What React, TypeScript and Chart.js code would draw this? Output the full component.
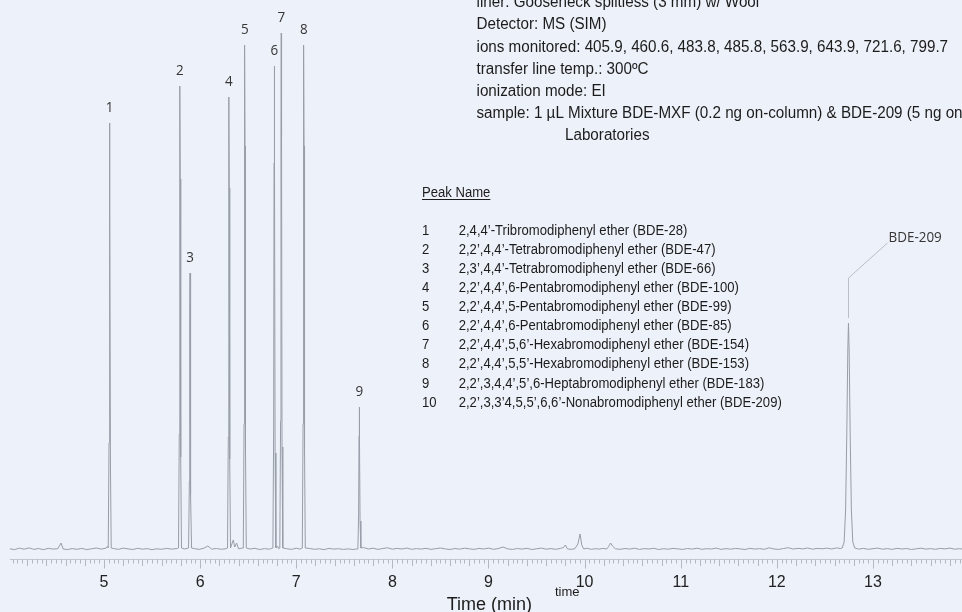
import { useEffect, useRef } from "react";
import { Chart, registerables } from "chart.js";

Chart.register(...registerables);

// ---------- data ----------
const xTickValues = [5, 6, 7, 8, 9, 10, 11, 12, 13];

const peakNumbers = ["1", "2", "3", "4", "5", "6", "7", "8", "9"];
const peakTimes = [5.059, 5.79, 5.895, 6.3, 6.464, 6.772, 6.844, 7.078, 7.656];
const peakHeights = [427, 464, 277, 453, 505, 484, 517, 505, 143];

const bde209Label = "BDE-209";
const bde209Time = 12.745;
const bde209Height = 227;

const legendNumbers = ["1", "2", "3", "4", "5", "6", "7", "8", "9", "10"];
const compoundNames = [
  "2,4,4’-Tribromodiphenyl ether (BDE-28)",
  "2,2’,4,4’-Tetrabromodiphenyl ether (BDE-47)",
  "2,3’,4,4’-Tetrabromodiphenyl ether (BDE-66)",
  "2,2’,4,4’,6-Pentabromodiphenyl ether (BDE-100)",
  "2,2’,4,4’,5-Pentabromodiphenyl ether (BDE-99)",
  "2,2’,4,4’,6-Pentabromodiphenyl ether (BDE-85)",
  "2,2’,4,4’,5,6’-Hexabromodiphenyl ether (BDE-154)",
  "2,2’,4,4’,5,5’-Hexabromodiphenyl ether (BDE-153)",
  "2,2’,3,4,4’,5’,6-Heptabromodiphenyl ether (BDE-183)",
  "2,2’,3,3’4,5,5’,6,6’-Nonabromodiphenyl ether (BDE-209)",
];

const methodLines = [
  "liner: Gooseneck splitless (3 mm) w/ Wool",
  "Detector: MS (SIM)",
  "ions monitored: 405.9, 460.6, 483.8, 485.8, 563.9, 643.9, 721.6, 799.7",
  "transfer line temp.: 300ºC",
  "ionization mode: EI",
  "sample: 1 µL Mixture BDE-MXF (0.2 ng on-column) & BDE-209 (5 ng on-column), Cambridge Isotope",
];
const methodContinuation = "Laboratories";

// trace segments: [time (min), signal]
const noiseA: [number, number][] = [
  [4.02, 1.2], [4.07, 0.4], [4.12, 1.9], [4.17, 0.8], [4.22, 2.1], [4.27, 0.6], [4.32, 1.5],
  [4.37, 0.3], [4.42, 1.7], [4.47, 0.9], [4.52, 1.3], [4.553, 7], [4.575, 1.0], [4.62, 0.5],
  [4.67, 1.4], [4.72, 0.7], [4.77, 1.6], [4.82, 0.4], [4.87, 1.2], [4.92, 2.0], [4.97, 0.9],
  [5.02, 1.8], [5.035, 3.5],
];
const peak1: [number, number][] = [
  [5.044, 2], [5.052, 107], [5.056, 342], [5.059, 427], [5.062, 342], [5.067, 85], [5.075, 2],
];
const noiseB: [number, number][] = [
  [5.1, 1.5], [5.15, 0.6], [5.2, 1.9], [5.25, 1.1], [5.3, 0.5], [5.35, 1.7], [5.4, 0.8],
  [5.45, 1.4], [5.5, 0.3], [5.55, 1.2], [5.6, 0.7], [5.65, 1.6], [5.7, 0.9], [5.765, 1.5],
];
const peak2: [number, number][] = [
  [5.775, 2], [5.783, 116], [5.787, 371], [5.79, 464], [5.793, 371], [5.798, 93], [5.806, 2],
];
const noiseC: [number, number][] = [[5.84, 1.0]];
const peak3: [number, number][] = [
  [5.88, 2], [5.888, 69], [5.892, 222], [5.895, 277], [5.898, 222], [5.903, 55], [5.911, 2],
];
const noiseD: [number, number][] = [
  [5.94, 1.4], [5.99, 0.6], [6.04, 1.8], [6.08, 4], [6.12, 0.9], [6.17, 1.5], [6.22, 0.7], [6.27, 1.3],
];
const peak4: [number, number][] = [
  [6.285, 2], [6.293, 113], [6.297, 362], [6.3, 453], [6.303, 362], [6.308, 91], [6.316, 2],
];
const noiseE: [number, number][] = [
  [6.33, 6], [6.345, 10], [6.36, 3], [6.38, 7], [6.4, 1.2], [6.43, 1.8],
];
const peak5: [number, number][] = [
  [6.449, 2], [6.457, 126], [6.461, 404], [6.464, 505], [6.467, 404], [6.472, 101], [6.48, 2],
];
const noiseF: [number, number][] = [
  [6.52, 1.0], [6.57, 1.7], [6.62, 0.5], [6.67, 1.4], [6.72, 0.8], [6.74, 1.5],
];
const peak6: [number, number][] = [
  [6.757, 2], [6.765, 121], [6.769, 387], [6.772, 484], [6.775, 387], [6.78, 97], [6.788, 2],
];
const noiseG: [number, number][] = [[6.805, 4], [6.818, 1.2]];
const peak7: [number, number][] = [
  [6.829, 2], [6.837, 129], [6.841, 414], [6.844, 517], [6.847, 414], [6.852, 103], [6.86, 2],
];
const noiseH: [number, number][] = [
  [6.9, 1.3], [6.95, 0.6], [7.0, 1.8], [7.04, 0.9],
];
const peak8: [number, number][] = [
  [7.063, 2], [7.071, 126], [7.075, 404], [7.078, 505], [7.081, 404], [7.086, 101], [7.094, 2],
];
const noiseI: [number, number][] = [
  [7.14, 1.5], [7.19, 0.7], [7.24, 1.2], [7.29, 0.4], [7.34, 1.6], [7.39, 0.9], [7.44, 1.3],
  [7.49, 0.6], [7.54, 1.1], [7.59, 0.5], [7.62, 1.0],
];
const peak9: [number, number][] = [
  [7.641, 1], [7.649, 36], [7.653, 114], [7.656, 143], [7.659, 114], [7.664, 29], [7.672, 2],
];
const noiseJ: [number, number][] = [
  [7.7, 2.5], [7.75, 1.0], [7.8, 1.8], [7.85, 0.6], [7.9, 1.5], [7.95, 2.2], [8.0, 0.8],
  [8.05, 1.6], [8.1, 1.0], [8.15, 1.9], [8.2, 0.7], [8.25, 1.4], [8.3, 0.9], [8.35, 1.7],
  [8.4, 0.6], [8.45, 1.3], [8.5, 2.0], [8.55, 1.1], [8.6, 0.5], [8.65, 1.5], [8.7, 0.8],
  [8.75, 1.8], [8.8, 1.2], [8.85, 0.6], [8.9, 1.6], [8.95, 1.0], [9.0, 1.9], [9.05, 0.7],
  [9.1, 1.4], [9.15, 3.0], [9.2, 1.1], [9.25, 0.6], [9.3, 1.5], [9.35, 0.9], [9.4, 1.7],
  [9.45, 0.5], [9.5, 1.2], [9.55, 1.9], [9.6, 0.8], [9.65, 1.4], [9.7, 0.7], [9.75, 1.6],
  [9.78, 2.5], [9.8, 5], [9.82, 1.2], [9.86, 0.6], [9.9, 1.4], [9.93, 6], [9.953, 16],
  [9.97, 5], [9.99, 1.1], [10.03, 1.7], [10.07, 0.6], [10.11, 1.3], [10.15, 0.9], [10.19, 1.6],
  [10.23, 1.0], [10.25, 3.5], [10.27, 7], [10.29, 4], [10.32, 1.2], [10.37, 0.7], [10.42, 1.5],
  [10.47, 0.9], [10.52, 1.8], [10.57, 0.6], [10.62, 1.4], [10.67, 1.0], [10.72, 1.7], [10.77, 0.5],
  [10.82, 1.3], [10.87, 0.8], [10.92, 1.6], [10.97, 1.1], [11.02, 0.6], [11.07, 1.5], [11.12, 0.9],
  [11.17, 1.8], [11.22, 0.7], [11.27, 1.3], [11.32, 1.0], [11.37, 1.9], [11.42, 0.6], [11.47, 1.4],
  [11.52, 0.8], [11.57, 1.6], [11.62, 1.1], [11.67, 0.5], [11.72, 1.7], [11.77, 0.9], [11.82, 1.4],
  [11.87, 0.7], [11.92, 2.2], [11.97, 1.0], [12.02, 0.6], [12.07, 1.5], [12.12, 2.3], [12.17, 0.9],
  [12.22, 1.7], [12.27, 1.1], [12.32, 2.0], [12.37, 0.8], [12.42, 1.6], [12.47, 1.2], [12.52, 1.9],
  [12.57, 1.0], [12.62, 2.1], [12.66, 1.5],
];
const peak209: [number, number][] = [
  [12.68, 2], [12.7, 8], [12.715, 40], [12.728, 120], [12.738, 200], [12.745, 227],
  [12.752, 200], [12.762, 120], [12.775, 40], [12.79, 8], [12.81, 2],
];
const noiseK: [number, number][] = [
  [12.85, 0.9], [12.9, 1.6], [12.95, 0.7], [13.0, 1.3], [13.05, 1.9], [13.1, 0.8], [13.15, 1.4],
  [13.2, 0.6], [13.25, 1.7], [13.3, 1.0], [13.35, 1.5], [13.4, 0.5], [13.45, 1.2], [13.5, 1.8],
  [13.55, 0.9], [13.6, 1.4], [13.65, 0.7], [13.7, 1.6], [13.75, 1.1], [13.8, 1.9], [13.85, 0.8],
  [13.9, 1.3], [13.93, 1.0],
];

const traceSegments = [
  noiseA, peak1, noiseB, peak2, noiseC, peak3, noiseD, peak4, noiseE, peak5, noiseF, peak6,
  noiseG, peak7, noiseH, peak8, noiseI, peak9, noiseJ, peak209, noiseK,
];

// ---------- drawing helpers ----------
function drawText(
  ctx: CanvasRenderingContext2D,
  text: string,
  x: number,
  y: number,
  font: string,
  color: string,
  align: CanvasTextAlign = "left",
  sx = 1,
  baseline: CanvasTextBaseline = "alphabetic"
) {
  ctx.save();
  ctx.font = font;
  ctx.fillStyle = color;
  ctx.textAlign = align;
  ctx.textBaseline = baseline;
  ctx.translate(x, y);
  ctx.scale(sx, 1);
  ctx.fillText(text, 0, 0);
  ctx.restore();
}

const decorPlugin = {
  id: "decor",
  beforeDraw(chart: any) {
    const ctx = chart.ctx as CanvasRenderingContext2D;
    ctx.save();
    ctx.fillStyle = "#edf1f9";
    ctx.fillRect(0, 0, chart.width, chart.height);
    ctx.restore();
  },
  afterDatasetsDraw(chart: any) {
    const ctx = chart.ctx as CanvasRenderingContext2D;
    const xs = chart.scales.x;
    const ys = chart.scales.y;
    const axisY = Math.round(ys.bottom) + 0.5;

    // axis line and ticks
    ctx.save();
    ctx.strokeStyle = "#c3c8d0";
    ctx.lineWidth = 1;
    ctx.beginPath();
    ctx.moveTo(xs.getPixelForValue(4.02), axisY);
    ctx.lineTo(xs.right, axisY);
    ctx.stroke();
    ctx.strokeStyle = "#b3b8c1";
    ctx.beginPath();
    for (let i = 81; i <= 278; i++) {
      const t = i * 0.05;
      const px = Math.round(xs.getPixelForValue(t)) + 0.5;
      const len = i % 20 === 0 ? 9 : i % 4 === 0 ? 6.5 : 4;
      ctx.moveTo(px, axisY);
      ctx.lineTo(px, axisY + len);
    }
    ctx.stroke();
    ctx.restore();

    // peak numbers
    const labelFont = '14px "Open Sans", "DejaVu Sans", sans-serif';
    for (let i = 0; i < peakNumbers.length; i++) {
      const px = xs.getPixelForValue(peakTimes[i]);
      const py = ys.getPixelForValue(peakHeights[i]);
      drawText(ctx, peakNumbers[i], px, py - 14.5, labelFont, "#353535", "center", 0.96, "middle");
    }

    // BDE-209 leader + label
    const bx = xs.getPixelForValue(bde209Time);
    const by = ys.getPixelForValue(bde209Height);
    ctx.save();
    ctx.strokeStyle = "#b9bec7";
    ctx.lineWidth = 1;
    ctx.beginPath();
    ctx.moveTo(Math.round(bx) + 0.5, by - 5);
    ctx.lineTo(Math.round(bx) + 0.5, by - 45);
    ctx.lineTo(bx + 39, by - 80);
    ctx.stroke();
    ctx.restore();
    drawText(ctx, bde209Label, bx + 40, by - 85, labelFont, "#353535", "left", 0.96, "middle");
  },
  afterDraw(chart: any) {
    const ctx = chart.ctx as CanvasRenderingContext2D;
    const infoFont = '16px "Liberation Sans", Arial, sans-serif';
    for (let i = 0; i < methodLines.length; i++) {
      drawText(ctx, methodLines[i], 476.5, 7.1 + i * 22.2, infoFont, "#1c1c1c", "left", 0.95);
    }
    drawText(ctx, methodContinuation, 565, 7.1 + methodLines.length * 22.2, infoFont, "#1c1c1c", "left", 0.95);

    // legend table
    const legFont = '14px "Liberation Sans", Arial, sans-serif';
    drawText(ctx, "Peak Name", 422, 197.3, legFont, "#1c1c1c", "left", 0.935);
    ctx.save();
    ctx.font = legFont;
    const w = ctx.measureText("Peak Name").width * 0.935;
    ctx.strokeStyle = "#1c1c1c";
    ctx.lineWidth = 1;
    ctx.beginPath();
    ctx.moveTo(422, 199.5);
    ctx.lineTo(422 + w, 199.5);
    ctx.stroke();
    ctx.restore();
    for (let i = 0; i < compoundNames.length; i++) {
      const y = 235 + i * 19.07;
      drawText(ctx, legendNumbers[i], 422, y, legFont, "#1c1c1c", "left", 0.935);
      drawText(ctx, compoundNames[i], 458.7, y, legFont, "#1c1c1c", "left", 0.935);
    }

    // axis titles
    drawText(ctx, "time", 555, 596, '13px "Liberation Sans", Arial, sans-serif', "#1c1c1c", "left", 1);
    drawText(ctx, "Time (min)", 446.7, 610, '18px "Liberation Sans", Arial, sans-serif', "#1c1c1c", "left", 1);
  },
};

export default function App() {
  const canvasRef = useRef<HTMLCanvasElement | null>(null);

  useEffect(() => {
    if (!canvasRef.current) return;
    const points = traceSegments.flat().map(([t, s]) => ({ x: t, y: s }));
    const chart = new Chart(canvasRef.current, {
      type: "line",
      data: {
        datasets: [
          {
            data: points,
            borderColor: "#989ea9",
            borderWidth: 1,
            pointRadius: 0,
            tension: 0,
            fill: false,
          },
        ],
      },
      options: {
        responsive: false,
        maintainAspectRatio: false,
        animation: false,
        devicePixelRatio: 1,
        parsing: true,
        layout: { padding: 0 },
        plugins: {
          legend: { display: false },
          tooltip: { enabled: false },
          title: { display: false },
        },
        events: [],
        scales: {
          x: {
            type: "linear",
            min: 3.918,
            max: 13.926,
            grid: { display: false, drawTicks: false },
            border: { display: false },
            afterBuildTicks: (scale: any) => {
              scale.ticks = xTickValues.map((v) => ({ value: v }));
            },
            afterFit: (scale: any) => {
              scale.height = 53;
            },
            ticks: {
              autoSkip: false,
              maxRotation: 0,
              padding: 14,
              color: "#222222",
              font: { family: '"Liberation Sans", Arial, sans-serif', size: 16 },
              callback: (v: any) => String(v),
            },
          },
          y: {
            type: "linear",
            display: false,
            min: -9,
            max: 550,
          },
        },
      },
      plugins: [decorPlugin],
    });
    return () => chart.destroy();
  }, []);

  return (
    <div style={{ position: "fixed", left: 0, top: 0, width: 962, height: 612, overflow: "hidden" }}>
      <canvas ref={canvasRef} width={962} height={612} style={{ display: "block" }} />
    </div>
  );
}
